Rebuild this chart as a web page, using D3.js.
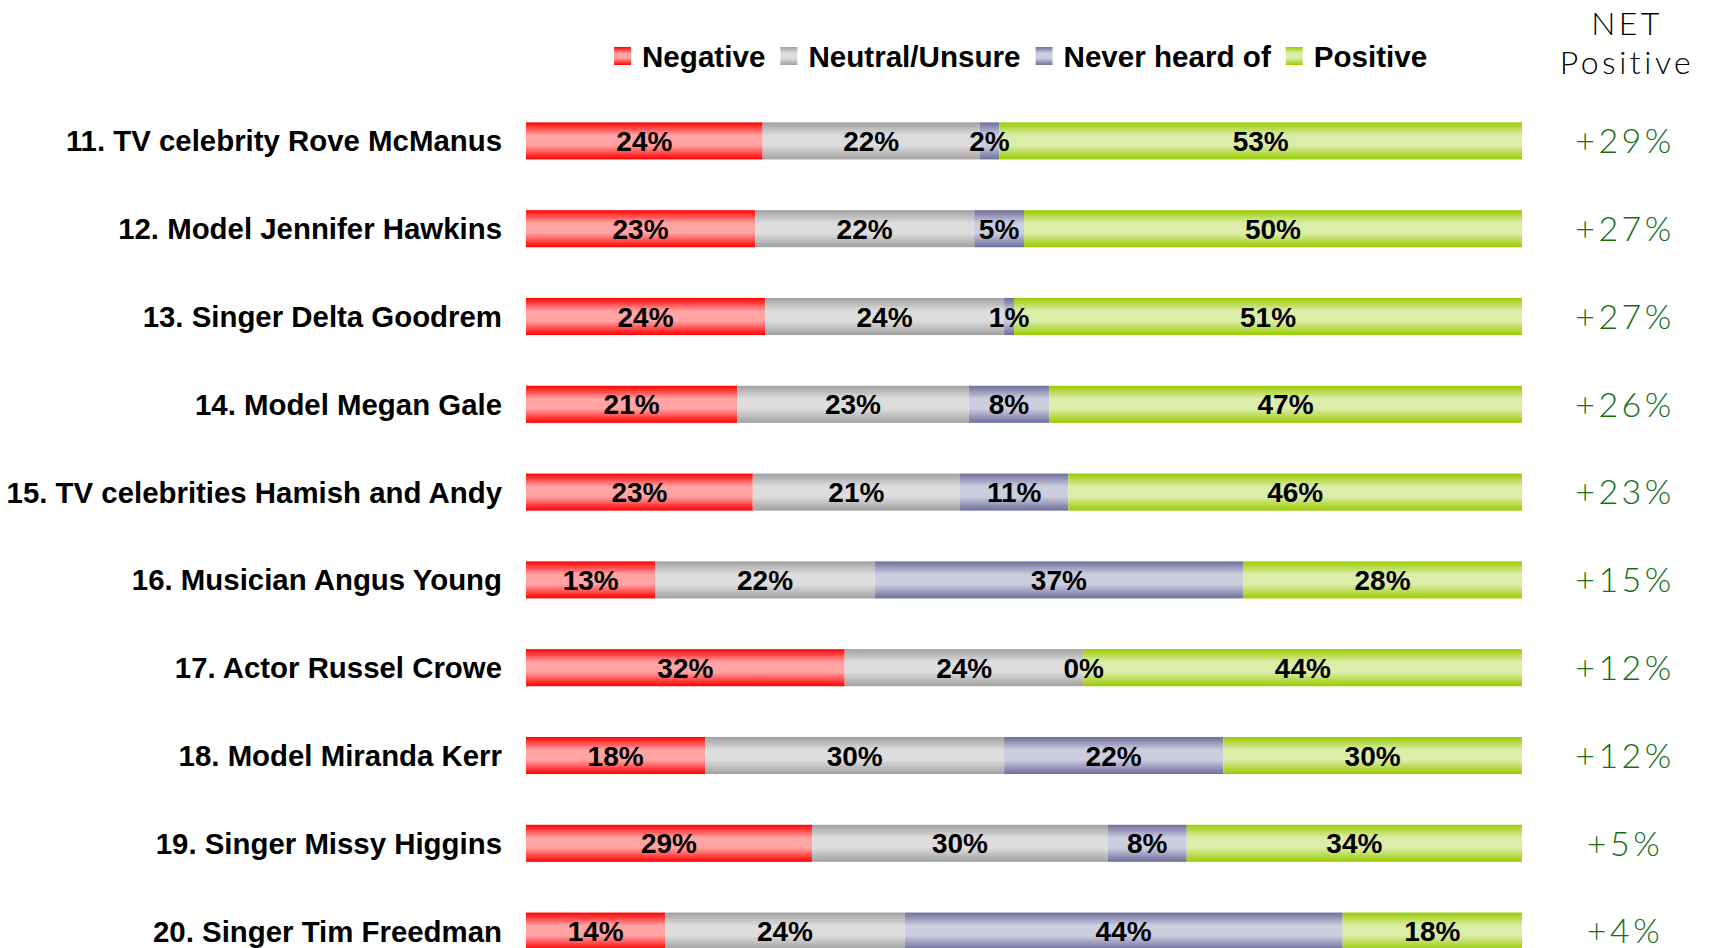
<!DOCTYPE html>
<html>
<head>
<meta charset="utf-8">
<script src="https://cdn.jsdelivr.net/npm/d3@7"></script>
<style>
  body { margin: 0; background: #fff; }
  svg { display: block; font-family: "Liberation Sans", Arial, sans-serif; }
</style>
</head>
<body>
<div id="chart"></div>
<script>
// rows, top to bottom
const people = [
  '11. TV celebrity Rove McManus',
  '12. Model Jennifer Hawkins',
  '13. Singer Delta Goodrem',
  '14. Model Megan Gale',
  '15. TV celebrities Hamish and Andy',
  '16. Musician Angus Young',
  '17. Actor Russel Crowe',
  '18. Model Miranda Kerr',
  '19. Singer Missy Higgins',
  '20. Singer Tim Freedman'
];
const seriesNames = ['Negative', 'Neutral/Unsure', 'Never heard of', 'Positive'];

const negative = [24, 23, 24, 21, 23, 13, 32, 18, 29, 14];
const neutral  = [22, 22, 24, 23, 21, 22, 24, 30, 30, 24];
const never    = [2, 5, 1, 8, 11, 37, 0, 22, 8, 44];
const positive = [53, 50, 51, 47, 46, 28, 44, 30, 34, 18];
const netPositive = ['+29%', '+27%', '+27%', '+26%', '+23%', '+15%', '+12%', '+12%', '+5%', '+4%'];

// edge colour / middle colour of each bar gradient
const edgeColors = ['#ff0000', '#a0a0a0', '#6e6e9c', '#99cc00'];
const midColors  = ['#ffa3a3', '#dddddd', '#cdcde0', '#dcedaa'];

const W = 1717, H = 948;
const svg = d3.select('#chart').append('svg').attr('width', W).attr('height', H);

const defs = svg.append('defs');
seriesNames.forEach((s, i) => {
  const g = defs.append('linearGradient').attr('id', 'grad' + i)
    .attr('x1', 0).attr('y1', 0).attr('x2', 0).attr('y2', 1);
  g.append('stop').attr('offset', '0%').attr('stop-color', edgeColors[i]);
  g.append('stop').attr('offset', '35%').attr('stop-color', midColors[i]);
  g.append('stop').attr('offset', '62%').attr('stop-color', midColors[i]);
  g.append('stop').attr('offset', '100%').attr('stop-color', edgeColors[i]);
});

const rows = people.map((p, i) => ({
  name: p,
  vals: [negative[i], neutral[i], never[i], positive[i]],
  net: netPositive[i]
}));

const x = d3.scaleLinear().domain([0, 1]).range([526, 1522]);
const y = d3.scaleBand().domain(people).range([97, 975]).paddingInner(0.578).paddingOuter(0.289);

const stack = d3.stack().keys([0, 1, 2, 3])
  .value((d, k) => d.vals[k] / d3.sum(d.vals));
const layers = stack(rows);

const g = svg.append('g');

layers.forEach((layer, k) => {
  g.selectAll('rect.s' + k).data(layer).join('rect')
    .attr('class', 's' + k)
    .attr('x', d => x(d[0]))
    .attr('y', d => y(d.data.name))
    .attr('width', d => x(d[1]) - x(d[0]))
    .attr('height', y.bandwidth())
    .attr('fill', `url(#grad${k})`);
});

layers.forEach((layer, k) => {
  g.selectAll('text.l' + k).data(layer).join('text')
    .attr('class', 'l' + k)
    .attr('x', d => (x(d[0]) + x(d[1])) / 2)
    .attr('y', d => y(d.data.name) + y.bandwidth() / 2)
    .attr('dy', '0.36em')
    .attr('text-anchor', 'middle')
    .attr('font-size', 28)
    .attr('font-weight', 'bold')
    .attr('fill', '#000')
    .text(d => d.data.vals[k] + '%');
});

// row names
g.selectAll('text.name').data(rows).join('text')
  .attr('class', 'name')
  .attr('x', 502)
  .attr('y', d => y(d.name) + y.bandwidth() / 2)
  .attr('dy', '0.36em')
  .attr('text-anchor', 'end')
  .attr('font-size', 29.4)
  .attr('font-weight', 'bold')
  .attr('fill', '#000')
  .text(d => d.name);

// net positive column
const thin = 'Lato, "Liberation Sans", sans-serif';
g.selectAll('text.net').data(rows).join('text')
  .attr('class', 'net')
  .attr('x', 1625)
  .attr('y', d => y(d.name) + y.bandwidth() / 2)
  .attr('dy', '0.36em')
  .attr('text-anchor', 'middle')
  .attr('font-family', thin)
  .attr('font-weight', 300)
  .attr('font-size', 34)
  .attr('letter-spacing', 3.5)
  .attr('fill', '#156f15')
  .text(d => d.net);

svg.append('text').attr('x', 1627).attr('y', 23).attr('dy', '0.36em')
  .attr('text-anchor', 'middle').attr('font-family', thin).attr('font-weight', 300)
  .attr('font-size', 32).attr('letter-spacing', 3.5)
  .text('NET');
svg.append('text').attr('x', 1627).attr('y', 62).attr('dy', '0.36em')
  .attr('text-anchor', 'middle').attr('font-family', thin).attr('font-weight', 300)
  .attr('font-size', 32).attr('letter-spacing', 3.5)
  .text('Positive');

// legend
const legend = svg.append('g');
let lx = 614;
seriesNames.forEach((s, i) => {
  legend.append('rect').attr('x', lx).attr('y', 47).attr('width', 17).attr('height', 18)
    .attr('fill', `url(#grad${i})`);
  const t = legend.append('text').attr('x', lx + 28).attr('y', 56).attr('dy', '0.36em')
    .attr('font-size', 29.6).attr('font-weight', 'bold').text(s);
  lx += 28 + t.node().getComputedTextLength() + 15;
});
</script>
</body>
</html>
